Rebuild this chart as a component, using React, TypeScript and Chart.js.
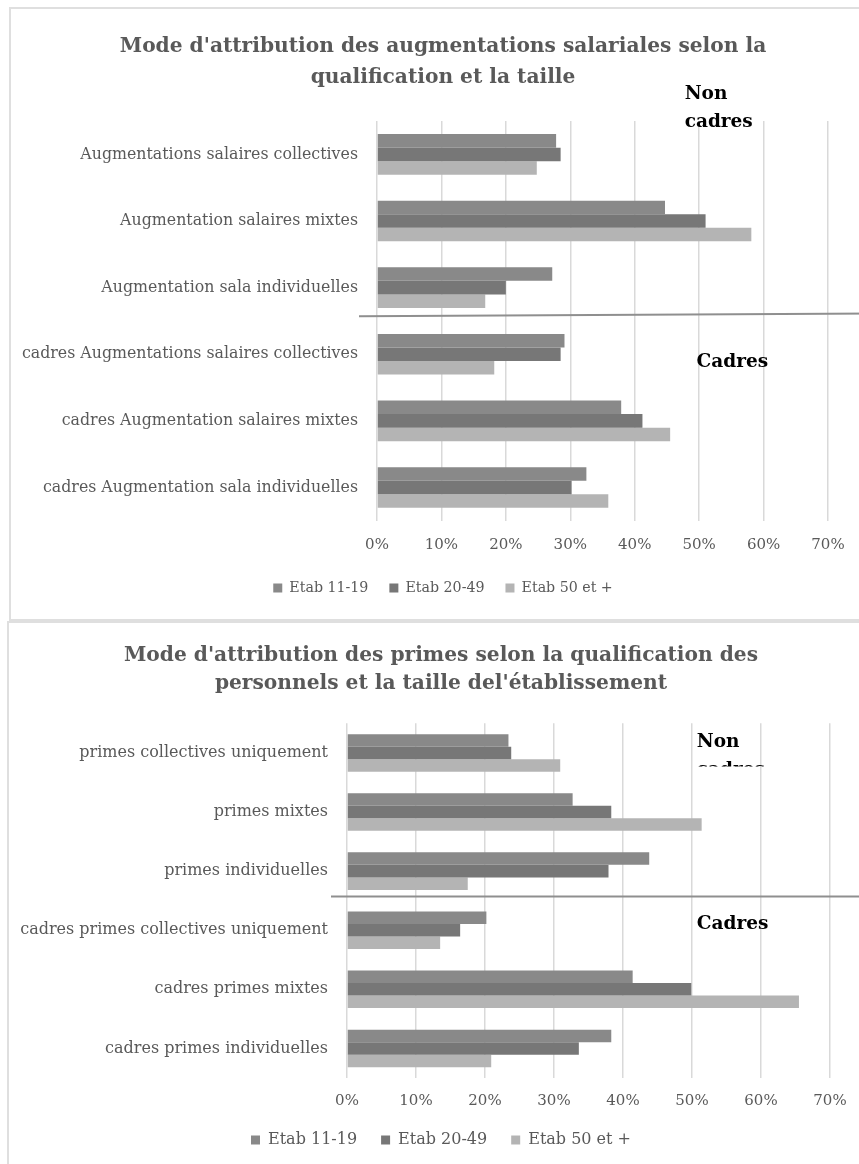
import React, { useEffect, useRef } from "react";
import { Chart, registerables } from "chart.js";

Chart.register(...registerables);

// ---------- data ----------
const seriesLabels = ["Etab 11-19", "Etab 20-49", "Etab 50 et +"];

const augCategories = [
  "Augmentations salaires collectives",
  "Augmentation salaires mixtes",
  "Augmentation sala individuelles",
  "cadres Augmentations salaires collectives",
  "cadres Augmentation salaires mixtes",
  "cadres Augmentation sala individuelles",
];
const aug11_19 = [27.8, 44.7, 27.2, 29.1, 37.9, 32.5];
const aug20_49 = [28.5, 51.0, 20.0, 28.5, 41.2, 30.2];
const aug50plus = [24.8, 58.1, 16.8, 18.2, 45.5, 35.9];

const primesCategories = [
  "primes collectives uniquement",
  "primes mixtes",
  "primes individuelles",
  "cadres primes collectives uniquement",
  "cadres primes mixtes",
  "cadres primes individuelles",
];
const primes11_19 = [23.4, 32.7, 43.8, 20.2, 41.4, 38.3];
const primes20_49 = [23.8, 38.3, 37.9, 16.4, 49.9, 33.6];
const primes50plus = [30.9, 51.4, 17.5, 13.5, 65.5, 20.9];

const axisMin = 0;
const axisMax = 70;
const axisStep = 10;

const augTitle = [
  "Mode d'attribution des augmentations salariales selon la",
  "qualification et la taille",
];
const primesTitle = [
  "Mode d'attribution des primes selon la qualification des",
  "personnels et la taille del'établissement",
];

const groupNonCadres = ["Non", "cadres"];
const groupCadres = ["Cadres"];

// ---------- styles ----------
const SERIF = "'DejaVu Serif', 'Liberation Serif', serif";
const barColors = ["#898989", "#777777", "#b4b4b4"];
const textGray = "#595959";

type Note = {
  lines: string[];
  x: number;
  y: number;
  lineHeight: number;
  clipBelow?: number;
};

// centre title and legend over the whole canvas (as in the original frame)
const centerBlocksPlugin = {
  id: "centerBlocks",
  afterLayout(chart: any) {
    [chart.titleBlock, chart.legend].forEach((b: any) => {
      if (!b) return;
      b.left = 0;
      b.right = chart.width;
      b.width = chart.width;
    });
  },
};

const notesPlugin = {
  id: "notes",
  afterDatasetsDraw(chart: any, _args: any, opts: any) {
    const { ctx, chartArea } = chart;
    const xs = chart.scales.x;
    const ys = chart.scales.y;
    ctx.save();
    if (opts.separator) {
      const s = opts.separator;
      ctx.strokeStyle = s.color;
      ctx.lineWidth = s.width;
      ctx.beginPath();
      ctx.moveTo(chartArea.left - s.overhang, ys.getPixelForValue(s.yStart));
      ctx.lineTo(chart.width, ys.getPixelForValue(s.yEnd));
      ctx.stroke();
    }
    (opts.notes || []).forEach((n: Note) => {
      ctx.save();
      ctx.font = opts.font;
      ctx.fillStyle = opts.color;
      ctx.textAlign = "left";
      ctx.textBaseline = "middle";
      if (n.clipBelow !== undefined) {
        ctx.beginPath();
        ctx.rect(0, 0, chart.width, ys.getPixelForValue(n.clipBelow));
        ctx.clip();
      }
      const px = xs.getPixelForValue(n.x);
      const py = ys.getPixelForValue(n.y);
      n.lines.forEach((line, i) => ctx.fillText(line, px, py + i * n.lineHeight));
      ctx.restore();
    });
    ctx.restore();
  },
};

type Spec = {
  categories: string[];
  values: number[][];
  title: string[];
  titleSize: number;
  titleLineHeight: number;
  titlePadTop: number;
  titlePadBottom: number;
  yAxisWidth: number;
  yFont: number;
  rightPad: number;
  bottomPad: number;
  xAxisHeight: number;
  xTickPad: number;
  legendFont: number;
  legendPad: number;
  categoryPercentage: number;
  separator: any;
  notes: Note[];
};

function BarChart({ spec, width, height }: { spec: Spec; width: number; height: number }) {
  const ref = useRef<HTMLCanvasElement | null>(null);
  useEffect(() => {
    if (!ref.current) return;
    const chart = new Chart(ref.current, {
      type: "bar",
      data: {
        labels: spec.categories,
        datasets: seriesLabels.map((label, i) => ({
          label,
          data: spec.values[i],
          backgroundColor: barColors[i],
          borderWidth: 0,
          categoryPercentage: spec.categoryPercentage,
          barPercentage: 1,
        })),
      },
      options: {
        indexAxis: "y",
        animation: false,
        responsive: true,
        maintainAspectRatio: false,
        layout: {
          padding: { left: 0, right: spec.rightPad, top: 0, bottom: spec.bottomPad },
        },
        scales: {
          x: {
            min: axisMin,
            max: axisMax,
            ticks: {
              stepSize: axisStep,
              color: textGray,
              font: { family: SERIF, size: 15 },
              padding: spec.xTickPad,
              callback: (v: any) => `${v}%`,
            },
            grid: { color: "#d9d9d9", lineWidth: 1.5, drawTicks: false },
            border: { display: false },
            afterFit: (scale: any) => {
              scale.height = spec.xAxisHeight;
            },
          },
          y: {
            ticks: {
              color: textGray,
              font: { family: SERIF, size: spec.yFont },
              padding: 19,
            },
            grid: { display: false, drawTicks: false },
            border: { display: false },
            afterFit: (scale: any) => {
              scale.width = spec.yAxisWidth;
            },
          },
        },
        plugins: {
          title: {
            display: true,
            text: spec.title,
            color: textGray,
            font: { family: SERIF, size: spec.titleSize, weight: "bold", lineHeight: spec.titleLineHeight },
            padding: { top: spec.titlePadTop, bottom: spec.titlePadBottom },
          },
          legend: {
            display: true,
            position: "bottom",
            labels: {
              color: textGray,
              font: { family: SERIF, size: spec.legendFont },
              boxWidth: 9,
              boxHeight: 9,
              padding: spec.legendPad,
            },
          },
          tooltip: { enabled: false },
          notes: {
            font: `bold 18.5px ${SERIF}`,
            color: "#000000",
            separator: spec.separator,
            notes: spec.notes,
          },
        } as any,
      },
      plugins: [centerBlocksPlugin, notesPlugin],
    });
    return () => chart.destroy();
  }, [spec]);
  return (
    <div style={{ position: "relative", width, height }}>
      <canvas ref={ref} />
    </div>
  );
}

const augSpec: Spec = {
  categories: augCategories,
  values: [aug11_19, aug20_49, aug50plus],
  title: augTitle,
  titleSize: 20.2,
  titleLineHeight: 1.5,
  titlePadTop: 23,
  titlePadBottom: 28.5,
  yAxisWidth: 366,
  yFont: 15.8,
  rightPad: 47,
  bottomPad: 14,
  xAxisHeight: 39,
  xTickPad: 15,
  legendFont: 14.2,
  legendPad: 21,
  categoryPercentage: 0.61,
  separator: { color: "#8f8f8f", width: 2, overhang: 18, yStart: 2.43, yEnd: 2.39 },
  notes: [
    { lines: groupNonCadres, x: 47.75, y: -0.91, lineHeight: 28 },
    { lines: groupCadres, x: 49.6, y: 3.12, lineHeight: 28 },
  ],
};

const primesSpec: Spec = {
  categories: primesCategories,
  values: [primes11_19, primes20_49, primes50plus],
  title: primesTitle,
  titleSize: 20.2,
  titleLineHeight: 1.37,
  titlePadTop: 19,
  titlePadBottom: 26,
  yAxisWidth: 338,
  yFont: 16,
  rightPad: 43,
  bottomPad: 10,
  xAxisHeight: 30,
  xTickPad: 14,
  legendFont: 16,
  legendPad: 24,
  categoryPercentage: 0.635,
  separator: { color: "#8f8f8f", width: 2, overhang: 16, yStart: 2.43, yEnd: 2.43 },
  notes: [
    { lines: groupNonCadres.slice(0, 1), x: 50.7, y: -0.18, lineHeight: 28 },
    { lines: groupNonCadres.slice(1), x: 50.7, y: 0.3, lineHeight: 28, clipBelow: 0.23 },
    { lines: groupCadres, x: 50.7, y: 2.9, lineHeight: 28 },
  ],
};

export default function App() {
  return (
    <div
      style={{
        position: "absolute",
        left: 0,
        top: 0,
        width: 859,
        height: 1164,
        overflow: "hidden",
        background: "#ffffff",
      }}
    >
      <div
        style={{
          position: "absolute",
          left: 9,
          top: 7,
          width: 864,
          height: 610,
          border: "2px solid #dfdfdf",
        }}
      >
        <BarChart spec={augSpec} width={864} height={610} />
      </div>
      <div
        style={{
          position: "absolute",
          left: 7,
          top: 621,
          width: 864,
          height: 545,
          border: "2px solid #dfdfdf",
        }}
      >
        <BarChart spec={primesSpec} width={864} height={545} />
      </div>
    </div>
  );
}
